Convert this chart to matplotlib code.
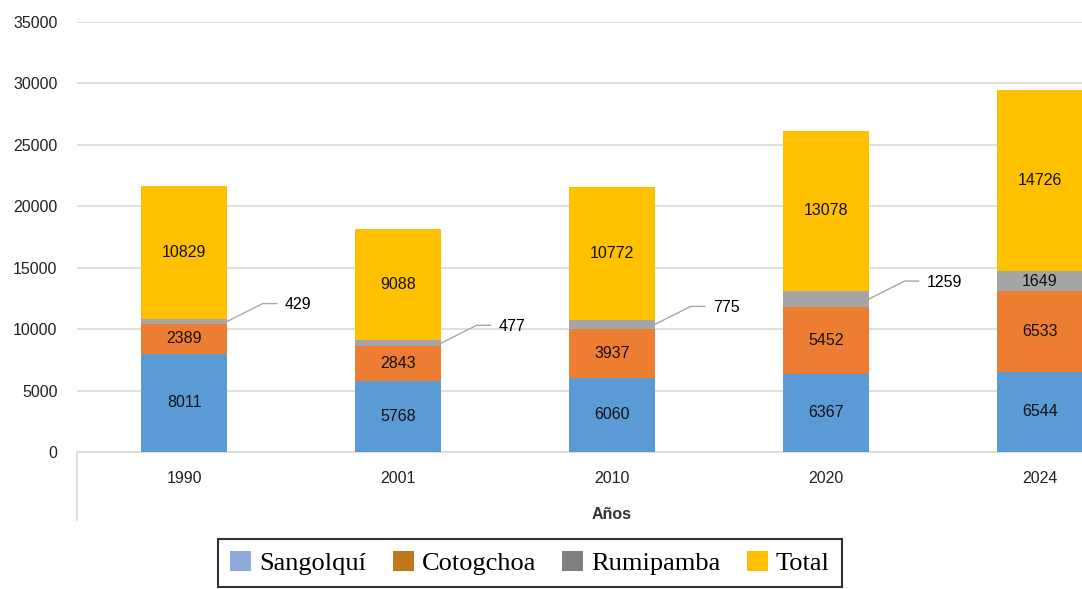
import matplotlib
matplotlib.use("Agg")
import matplotlib.pyplot as plt
from matplotlib.patches import Patch
from matplotlib.lines import Line2D
import numpy as np

years = ["1990", "2001", "2010", "2020", "2024"]
sangolqui = [8011, 5768, 6060, 6367, 6544]
cotogchoa = [2389, 2843, 3937, 5452, 6533]
rumipamba = [429, 477, 775, 1259, 1649]
total = [10829, 9088, 10772, 13078, 14726]
series_names = ["Sangolquí", "Cotogchoa", "Rumipamba", "Total"]
yticks = [0, 5000, 10000, 15000, 20000, 25000, 30000, 35000]

bar_colors = ["#5B9BD5", "#ED7D31", "#A5A5A5", "#FFC000"]
legend_colors = ["#8FAADC", "#C0781C", "#808080", "#FFC000"]

plt.rcParams["font.family"] = ["Liberation Sans", "DejaVu Sans"]

fig = plt.figure(figsize=(10.82, 5.89), dpi=100)
ax = fig.add_axes([77/1082, 1-452/589, 1070/1082, 430/589])

x = np.arange(len(years))
w = 0.4
series = [sangolqui, cotogchoa, rumipamba, total]
bottom = np.zeros(len(years))
for vals, c in zip(series, bar_colors):
    ax.bar(x, vals, w, bottom=bottom, color=c, zorder=3)
    bottom += np.array(vals)

# data labels
bottom = np.zeros(len(years))
for si, vals in enumerate(series):
    for i, v in enumerate(vals):
        mid = bottom[i] + v / 2
        if si == 2 and i < 4:
            xe = x[i] + w / 2
            ax.annotate("", xy=(xe, mid), xytext=(50, 18), textcoords="offset pixels",
                        arrowprops=dict(arrowstyle="-", color="#A6A6A6", lw=1,
                                        shrinkA=0, shrinkB=0,
                                        connectionstyle="angle,angleA=0,angleB=26.6,rad=0"),
                        zorder=4)
            ax.annotate(str(v), xy=(xe, mid), xytext=(58, 17), textcoords="offset pixels",
                        ha="left", va="center", fontsize=11.5, color="#000000", zorder=5)
        else:
            ax.text(x[i], mid, str(v), ha="center", va="center", fontsize=11.5,
                    color="#111111", zorder=5)
    bottom += np.array(vals)

ax.set_xlim(-0.5, 4.5)
ax.set_ylim(0, 35000)
ax.set_yticks(yticks)
ax.set_yticklabels([str(t) for t in yticks], fontsize=11.5, color="#222222")
ax.set_xticks(x)
ax.set_xticklabels(years, fontsize=11.5, color="#222222")
ax.tick_params(axis="both", length=0)
ax.tick_params(axis="y", pad=14)
ax.tick_params(axis="x", pad=14)
ax.grid(axis="y", color="#D9D9D9", lw=1.2, zorder=0)
for s in ["top", "right", "left"]:
    ax.spines[s].set_visible(False)
ax.spines["bottom"].set_color("#D9D9D9")
ax.spines["bottom"].set_linewidth(1.2)
ax.set_xlabel("Años", fontsize=11.5, fontweight="bold", color="#333333", labelpad=15)

# vertical line below the category axis at left
fig.add_artist(Line2D([77/1082, 77/1082], [1-452/589, 1-520/589], color="#D9D9D9", lw=1.2))

handles = [Patch(facecolor=c, edgecolor="none") for c in legend_colors]
leg = fig.legend(handles, series_names, loc="upper center", ncol=4,
                 bbox_to_anchor=(530/1082, 1-539/589),
                 prop={"family": "Liberation Serif", "size": 19},
                 frameon=True, fancybox=False, edgecolor="black",
                 handlelength=0.8, handleheight=0.8, handletextpad=0.3,
                 columnspacing=1.0, borderpad=0.45, borderaxespad=0)
leg.get_frame().set_linewidth(1.5)

fig.savefig("out.png", dpi=100)
